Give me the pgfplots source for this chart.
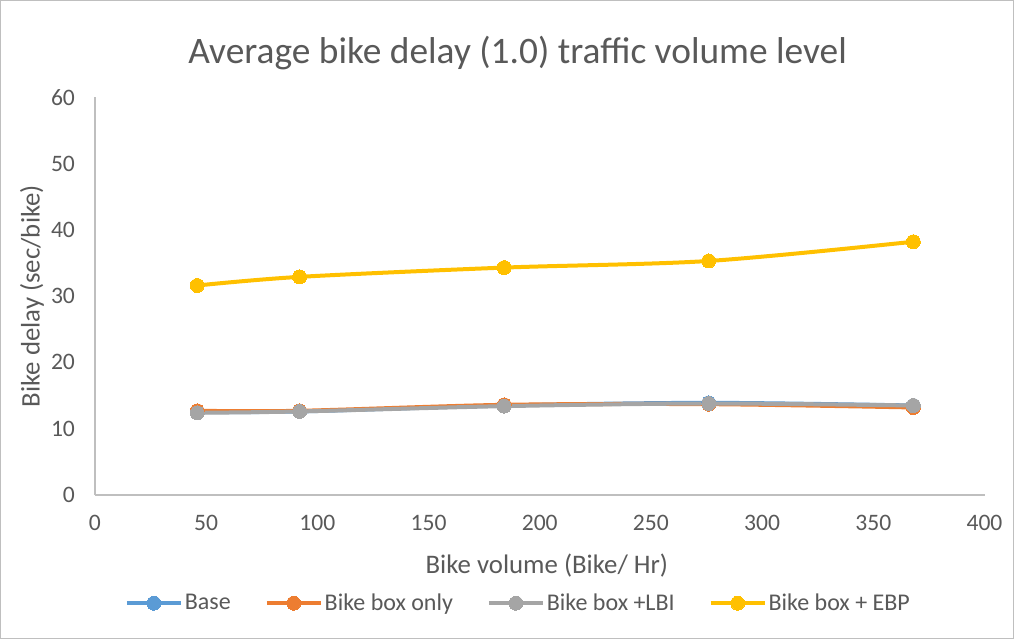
\documentclass[border=0pt]{standalone}
\usepackage{pgfplots}
\pgfplotsset{compat=1.18}
\usepackage{fontspec}
\setmainfont{Carlito}
\definecolor{txt}{HTML}{595959}
\definecolor{axl}{HTML}{BFBFBF}
\definecolor{cbase}{HTML}{5B9BD5}
\definecolor{corange}{HTML}{ED7D31}
\definecolor{cgray}{HTML}{A5A5A5}
\definecolor{cyellow}{HTML}{FFC000}
\begin{document}
\begin{tikzpicture}
\begin{axis}[
  scale only axis,
  width=445bp, height=199bp,
  xmin=0, xmax=400, ymin=0, ymax=60,
  xtick={0,50,...,400}, ytick={0,10,...,60},
  axis x line*=bottom, axis y line*=left,
  axis line style={axl, line width=0.75bp},
  x axis line style={-}, y axis line style={-},
  major tick length=0pt,
  tick label style={font=\fontsize{11.8bp}{13bp}\selectfont, text=txt},
  /pgf/number format/assume math mode=true,
  xticklabel style={yshift=-6.5bp},
  yticklabel style={xshift=-6.5bp},
  every axis plot/.append style={line width=2bp, smooth, tension=0.5},
  legend style={draw=none, at={(0.476,-0.272)}, anchor=center,
    font=\fontsize{12bp}{14bp}\selectfont, text=txt,
    nodes={inner xsep=1bp},
    /tikz/every even column/.append style={column sep=16bp}},
  legend columns=-1,
  legend image code/.code={\draw[#1, mark repeat=2, mark phase=2] plot coordinates {(0bp,0bp) (13.5bp,0bp) (27bp,0bp)};},
  clip=false,
]
\addplot[cbase, mark=*, mark size=3.5bp, mark options={line width=0pt, fill=cbase}] coordinates {(46,12.5) (92,12.6) (184,13.5) (276,13.9) (368,13.5)};
\addlegendentry{Base}
\addplot[corange, mark=*, mark size=3.5bp, mark options={line width=0pt, fill=corange}] coordinates {(46,12.7) (92,12.7) (184,13.6) (276,13.7) (368,13.2)};
\addlegendentry{Bike box only}
\addplot[cgray, mark=*, mark size=3.5bp, mark options={line width=0pt, fill=cgray}] coordinates {(46,12.4) (92,12.6) (184,13.4) (276,13.8) (368,13.5)};
\addlegendentry{Bike box +LBI}
\addplot[cyellow, mark=*, mark size=3.5bp, mark options={line width=0pt, fill=cyellow}] coordinates {(46,31.6) (92,32.9) (184,34.3) (276,35.3) (368,38.2)};
\addlegendentry{Bike box + EBP}
\draw[axl, line width=0.5bp, use as bounding box] (rel axis cs:-0.10618,-0.3612) rectangle (rel axis cs:1.0326,1.2431);
\node[text=txt, font=\fontsize{18.7bp}{21bp}\selectfont] at (rel axis cs:0.475,1.11) {Average bike delay (1.0) traffic volume level};
\node[text=txt, font=\fontsize{13.4bp}{15bp}\selectfont] at (rel axis cs:0.508,-0.178) {Bike volume (Bike/ Hr)};
\node[text=txt, font=\fontsize{13.4bp}{15bp}\selectfont, rotate=90] at (rel axis cs:-0.0708,0.5) {Bike delay (sec/bike)};
\end{axis}
\end{tikzpicture}
\end{document}
